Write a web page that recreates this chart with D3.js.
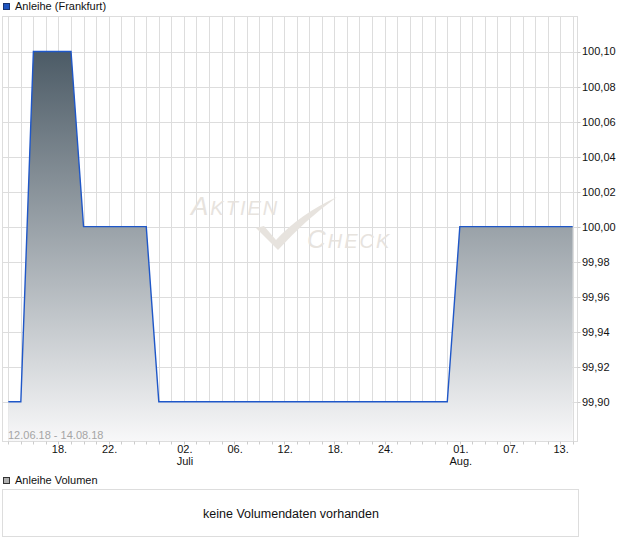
<!DOCTYPE html>
<html>
<head>
<meta charset="utf-8">
<script src="https://cdn.jsdelivr.net/npm/d3@7"></script>
<style>
  html, body { margin: 0; padding: 0; background: #fff; }
  svg { display: block; font-family: "Liberation Sans", Arial, sans-serif; }
</style>
</head>
<body>
<svg id="chart" width="620" height="546"></svg>
<script>
// ---- data ----
const dates = [
  "2018-06-12","2018-06-13","2018-06-14","2018-06-15",
  "2018-06-18","2018-06-19","2018-06-20","2018-06-21","2018-06-22",
  "2018-06-25","2018-06-26","2018-06-27","2018-06-28","2018-06-29",
  "2018-07-02","2018-07-03","2018-07-04","2018-07-05","2018-07-06",
  "2018-07-09","2018-07-10","2018-07-11","2018-07-12","2018-07-13",
  "2018-07-16","2018-07-17","2018-07-18","2018-07-19","2018-07-20",
  "2018-07-23","2018-07-24","2018-07-25","2018-07-26","2018-07-27",
  "2018-07-30","2018-07-31",
  "2018-08-01","2018-08-02","2018-08-03",
  "2018-08-06","2018-08-07","2018-08-08","2018-08-09","2018-08-10",
  "2018-08-13","2018-08-14"
];
const prices = [
  99.90, 99.90, 100.10, 100.10,
  100.10, 100.10, 100.00, 100.00, 100.00,
  100.00, 100.00, 100.00, 99.90, 99.90,
  99.90, 99.90, 99.90, 99.90, 99.90,
  99.90, 99.90, 99.90, 99.90, 99.90,
  99.90, 99.90, 99.90, 99.90, 99.90,
  99.90, 99.90, 99.90, 99.90, 99.90,
  99.90, 99.90,
  100.00, 100.00, 100.00,
  100.00, 100.00, 100.00, 100.00, 100.00,
  100.00, 100.00
];
const xTickDates  = ["2018-06-18","2018-06-22","2018-07-02","2018-07-06","2018-07-12","2018-07-18","2018-07-24","2018-08-01","2018-08-07","2018-08-13"];
const xTickLabels = ["18.","22.","02.","06.","12.","18.","24.","01.","07.","13."];
const monthDates  = ["2018-07-02","2018-08-01"];
const monthLabels = ["Juli","Aug."];
const yTicks = [99.90, 99.92, 99.94, 99.96, 99.98, 100.00, 100.02, 100.04, 100.06, 100.08, 100.10];
const seriesName = "Anleihe (Frankfurt)";
const volumeName = "Anleihe Volumen";
const rangeLabel = "12.06.18 - 14.08.18";
const noVolumeText = "keine Volumendaten vorhanden";

// ---- layout ----
const plot = { left: 2.5, right: 577.5, top: 16.5, bottom: 441.5 };
const svg = d3.select("#chart");

const x = d3.scalePoint().domain(dates).range([8.3, 572.7]);
const y = d3.scaleLinear().domain([99.8773, 100.12]).range([plot.bottom, plot.top]);
const fmt = d3.formatLocale({decimal: ",", thousands: ".", grouping: [3], currency: ["", "€"]}).format(".2f");

const defs = svg.append("defs");
const grad = defs.append("linearGradient")
  .attr("id", "areaGrad").attr("gradientUnits", "userSpaceOnUse")
  .attr("x1", 0).attr("x2", 0).attr("y1", y(100.10)).attr("y2", plot.bottom);
grad.append("stop").attr("offset", 0).attr("stop-color", "#4c5b66");
grad.append("stop").attr("offset", 1).attr("stop-color", "#f8f8f9");

// legend top
svg.append("rect").attr("x", 3.5).attr("y", 3.5).attr("width", 6).attr("height", 6)
  .attr("fill", "#1f55c0").attr("stroke", "#1a3470").attr("stroke-width", 1);
svg.append("text").attr("x", 15).attr("y", 10).attr("font-size", 11).attr("fill", "#111").text(seriesName);

// grid
const g = svg.append("g");
g.selectAll("line.vg").data(dates).join("line")
  .attr("x1", d => Math.round(x(d)) + 0.5).attr("x2", d => Math.round(x(d)) + 0.5)
  .attr("y1", plot.top).attr("y2", plot.bottom)
  .attr("stroke", "#dddddd").attr("stroke-width", 1);
g.selectAll("line.hg").data(yTicks).join("line")
  .attr("x1", plot.left).attr("x2", plot.right)
  .attr("y1", d => Math.round(y(d)) + 0.5).attr("y2", d => Math.round(y(d)) + 0.5)
  .attr("stroke", "#dddddd").attr("stroke-width", 1);

// watermark
const wm = svg.append("g").attr("fill", "#e7e3de").attr("font-style", "italic").attr("font-family", "'Liberation Sans', Arial, sans-serif");
const t1 = wm.append("text").attr("x", 191).attr("y", 215).attr("font-size", 26).attr("letter-spacing", 2);
t1.append("tspan").text("A");
t1.append("tspan").attr("font-size", 20).text("KTIEN");
const t2 = wm.append("text").attr("x", 307).attr("y", 248).attr("font-size", 26).attr("letter-spacing", 2);
t2.append("tspan").text("C");
t2.append("tspan").attr("font-size", 20).text("HECK");
wm.append("path")
  .attr("d", "M256,228 L264,226 L276,240 Q300,214 337,197 Q305,220 278,250 Z");

// area + line
const area = d3.area().x(d => x(d[0])).y0(plot.bottom).y1(d => y(d[1]));
const line = d3.line().x(d => x(d[0])).y(d => y(d[1]));
const pts = dates.map((d, i) => [d, prices[i]]);
svg.append("path").datum(pts).attr("d", area).attr("fill", "url(#areaGrad)");
svg.append("path").datum(pts).attr("d", line).attr("fill", "none")
  .attr("stroke", "#1f57c8").attr("stroke-width", 1.4);

// frame
svg.append("rect").attr("x", plot.left).attr("y", plot.top)
  .attr("width", plot.right - plot.left).attr("height", plot.bottom - plot.top)
  .attr("fill", "none").attr("stroke", "#dddddd");

// range label
svg.append("text").attr("x", 8).attr("y", 439).attr("font-size", 11).attr("fill", "#a5a5a5").text(rangeLabel);

// bottom axis ticks
svg.selectAll("line.xt").data(dates).join("line")
  .attr("x1", d => Math.round(x(d)) + 0.5).attr("x2", d => Math.round(x(d)) + 0.5)
  .attr("y1", plot.bottom).attr("y2", plot.bottom + 3)
  .attr("stroke", "#cccccc");
svg.selectAll("text.xl").data(xTickDates).join("text")
  .attr("x", d => x(d) + 1).attr("y", 453).attr("text-anchor", "middle")
  .attr("font-size", 11).attr("fill", "#111")
  .text((d, i) => xTickLabels[i]);
svg.selectAll("text.ml").data(monthDates).join("text")
  .attr("x", d => x(d) + 1).attr("y", 465).attr("text-anchor", "middle")
  .attr("font-size", 11).attr("fill", "#111")
  .text((d, i) => monthLabels[i]);

// right axis
svg.selectAll("line.yt").data(yTicks).join("line")
  .attr("x1", plot.right).attr("x2", plot.right + 3)
  .attr("y1", d => Math.round(y(d)) + 0.5).attr("y2", d => Math.round(y(d)) + 0.5)
  .attr("stroke", "#cccccc");
svg.selectAll("text.yl").data(yTicks).join("text")
  .attr("x", 582).attr("y", d => y(d)).attr("dy", "0.36em")
  .attr("font-size", 11).attr("fill", "#111")
  .text(d => fmt(d));

// volume panel
svg.append("rect").attr("x", 3.5).attr("y", 477.5).attr("width", 6).attr("height", 6)
  .attr("fill", "#b0b0b0").attr("stroke", "#333").attr("stroke-width", 1);
svg.append("text").attr("x", 15).attr("y", 484).attr("font-size", 11).attr("fill", "#111").text(volumeName);
svg.append("rect").attr("x", 2.5).attr("y", 489.5).attr("width", 576).attr("height", 47)
  .attr("fill", "#fff").attr("stroke", "#dddddd");
svg.append("text").attr("x", 291).attr("y", 518).attr("text-anchor", "middle")
  .attr("font-size", 12.5).attr("fill", "#111").text(noVolumeText);
</script>
</body>
</html>
